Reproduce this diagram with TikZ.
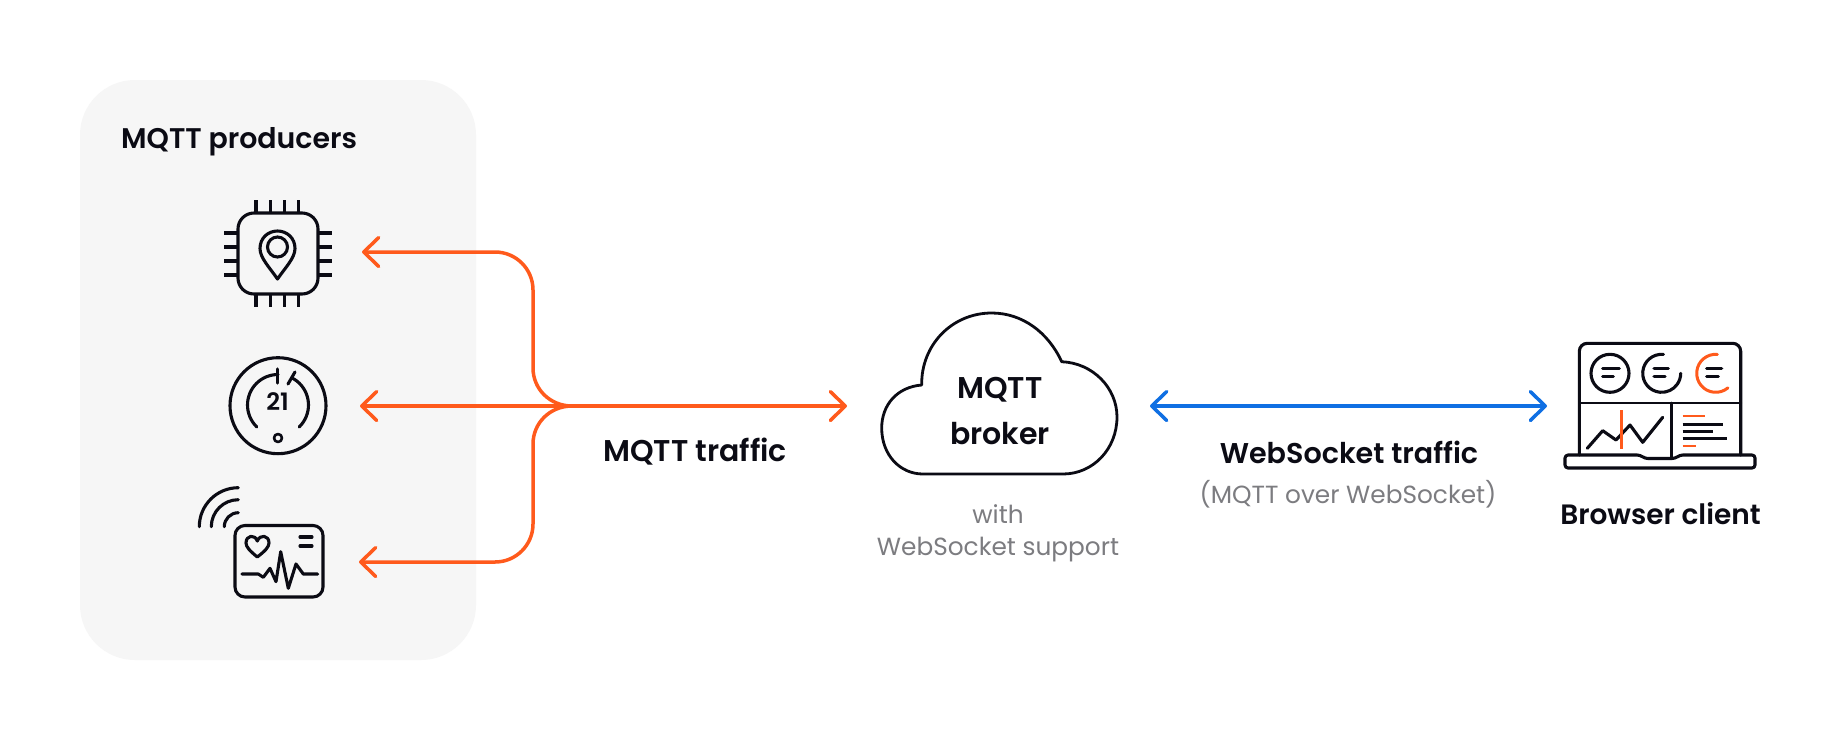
\documentclass[tikz,border=0pt]{standalone}
\usepackage{fontspec}
\setmainfont{Poppins}[BoldFont={Poppins SemiBold}]
\usetikzlibrary{arrows.meta}
\definecolor{orangeline}{HTML}{FF5A1C}
\definecolor{blueline}{HTML}{0F6FE3}
\definecolor{panelgrey}{HTML}{F6F6F6}
\definecolor{inkblack}{HTML}{0B0B14}
\definecolor{softgrey}{HTML}{7C7C80}
\tikzset{
  chev/.tip={Straight Barb[length=15pt,width=29pt,line width=3.5pt,round]},
  flow/.style={line width=3.5pt,line cap=round,line join=round},
  ink/.style={draw=inkblack,line width=3.1pt,line cap=round,line join=round},
  inkthin/.style={draw=inkblack,line width=2.6pt,line cap=round,line join=round},
  hot/.style={draw=orangeline,line width=2.8pt,line cap=round,line join=round},
  title/.style={font=\bfseries\fontsize{28.4}{34}\selectfont,text=inkblack,inner sep=0pt,align=center},
  note/.style={font=\fontsize{24.8}{30}\selectfont,text=softgrey,inner sep=0pt,align=center},
}
\begin{document}
\begin{tikzpicture}[x=1pt,y=-1pt]
\useasboundingbox (0,0) rectangle (1840,740);
\fill[white] (0,0) rectangle (1840,740);
\fill[panelgrey,rounded corners=55pt] (80,80) rectangle (476,660);

% named ends
\coordinate (tipa) at (362,252);
\coordinate (tipb) at (360,406);
\coordinate (tipc) at (359,562);
\coordinate (hub) at (572,406);
\coordinate (brokerin) at (847,406);
\coordinate (brokerout) at (1150,406);
\coordinate (clientin) at (1547,406);

% connectors
\draw[flow,draw=orangeline,{chev}-] (tipa) -- (495,252) .. controls (516,252) and (533,269) .. (533,290) -- (533,368) .. controls (533,389) and (550,406) .. (hub);
\draw[flow,draw=orangeline,{chev}-] (tipc) -- (495,562) .. controls (516,562) and (533,545) .. (533,524) -- (533,444) .. controls (533,423) and (550,406) .. (hub);
\draw[flow,draw=orangeline,{chev}-{chev}] (tipb) -- (brokerin);
\draw[flow,draw=blueline,{chev}-{chev}] (brokerout) -- (clientin);

% labels
\node[title,anchor=west] (producers) at (121,142) {MQTT producers};
\node[title,font=\bfseries\fontsize{30}{36}\selectfont] (mqtttraffic) at (695,452) {MQTT traffic};
\node[title,font=\bfseries\fontsize{28.6}{34}\selectfont] (wstraffic) at (1349,452) {WebSocket traffic};
\node[note] (wsnote) at (1348,494) {(MQTT over WebSocket)};
\node[title,font=\bfseries\fontsize{28}{34}\selectfont] (clientlabel) at (1660.5,514) {Browser client};
\node[note] (withnote) at (998,533) {with\\[2pt]WebSocket support};

% cloud
\draw[ink,line width=2.8pt] (921.7,385) .. controls (897,387) and (881.7,405) .. (881.7,428)
  .. controls (881.7,455) and (900,474) .. (923,474) -- (1063,474)
  .. controls (1093,474) and (1117,449) .. (1117,417)
  .. controls (1117,388) and (1093,363) .. (1061.7,361.7)
  .. controls (1048,332) and (1022,313) .. (991.7,313)
  .. controls (952,313) and (921,345) .. (921.7,385) -- cycle;
\node[title,font=\bfseries\fontsize{30}{36}\selectfont] (brokerlabel) at (1000,411) {MQTT\\[10pt]broker};

% chip
\draw[ink,rounded corners=16pt] (238,213) rectangle (318,294);
\foreach \px in {256,270.5,284.5,298.5} {
  \draw[ink,line cap=butt] (\px,200) -- (\px,213);
  \draw[ink,line cap=butt] (\px,294) -- (\px,307);
}
\foreach \py in {233,247,261,275} {
  \draw[ink,line cap=butt] (224,\py) -- (238,\py);
  \draw[ink,line cap=butt] (318,\py) -- (332,\py);
}
\draw[ink] (277.5,279) .. controls (270,268) and (260,258) .. (260,248.5)
  .. controls (260,238) and (268,231) .. (277.5,231)
  .. controls (287,231) and (295,238) .. (295,248.5)
  .. controls (295,258) and (285,268) .. (277.5,279) -- cycle;
\draw[ink] (277.5,247) circle[radius=10];

% thermostat
\draw[ink] (278,405.7) circle[radius=48];
\draw[ink] (278,405) ++(-90:30.5) arc[start angle=-90,end angle=-226,radius=30.5];
\draw[ink] (278,405) ++(-61:30.5) arc[start angle=-61,end angle=46,radius=30.5];
\draw[ink] (277.5,369) -- (277.5,383);
\draw[ink] (295,372) -- (288,384);
\draw[inkthin] (278,438) circle[radius=4];
\node[font=\bfseries\fontsize{24}{26}\selectfont,text=inkblack,inner sep=0pt] (temp) at (277.5,402) {21};

% monitor
\draw[ink,rounded corners=10pt] (235,525.5) rectangle (323,597);
\draw[ink] (257.3,557) .. controls (250,551) and (246,547) .. (246,543)
  .. controls (246,535) and (255,534) .. (257.3,541)
  .. controls (260,534) and (269,535) .. (269,543)
  .. controls (269,547) and (265,551) .. (257.3,557) -- cycle;
\draw[ink] (300,537) -- (312,537);
\draw[ink] (300,546) -- (312,546);
\draw[ink] (242,574) -- (258.3,574) -- (263.3,577.3) -- (270,568.3) -- (276,581.7) -- (280.7,551.7) -- (288.3,588.3) -- (296,564) -- (303.3,574) -- (317.7,574);
\foreach \rr in {14,27,39} {
  \draw[ink] (238.3,526.7) ++(180:\rr) arc[start angle=180,end angle=270,radius=\rr];
}

% laptop
\draw[ink,rounded corners=8pt] (1579.3,455) -- (1579.3,343.3) -- (1740.7,343.3) -- (1740.7,455);
\draw[ink,rounded corners=3pt] (1565,455) -- (1640,455) -- (1645,458.5) -- (1675,458.5) -- (1680,455) -- (1755,455) -- (1755,468) -- (1565,468) -- cycle;
\draw[ink,line width=2.6pt] (1579.3,403) -- (1740.7,403);
\draw[ink,line width=2.6pt] (1671.7,403) -- (1671.7,458);
\draw[ink] (1610,373.3) circle[radius=19];
\draw[ink] (1602.7,368.3) -- (1619.3,368.3);
\draw[ink] (1602.7,376.7) -- (1613.3,376.7);
\draw[ink] (1661.7,373.3) ++(-85:19) arc[start angle=-85,end angle=-360,radius=19];
\draw[ink] (1654,368.3) -- (1668.3,368.3);
\draw[ink] (1654,376.7) -- (1665,376.7);
\draw[hot,line width=3pt] (1715.7,373.3) ++(-85:19) arc[start angle=-85,end angle=-310,radius=19];
\draw[ink] (1706.7,368.3) -- (1721.7,368.3);
\draw[ink] (1706.7,376.7) -- (1718.3,376.7);
\draw[ink] (1587.3,448.3) -- (1602.7,430.7) -- (1616,440) -- (1630,425) -- (1642.7,442.3) -- (1662.7,417.3);
\draw[hot,line cap=butt] (1621.7,410) -- (1621.7,449.3);
\draw[hot,line cap=butt] (1682.7,416) -- (1705,416);
\draw[ink,line cap=butt] (1682.7,424.3) -- (1723.3,424.3);
\draw[ink,line cap=butt] (1682.7,431.7) -- (1713.3,431.7);
\draw[ink,line cap=butt] (1682.7,438.3) -- (1727.3,438.3);
\draw[hot,line cap=butt] (1682.7,446) -- (1695.7,446);
\end{tikzpicture}
\end{document}
